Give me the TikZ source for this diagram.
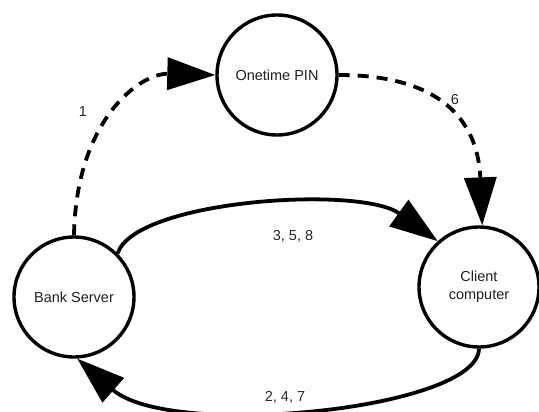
\documentclass[tikz,border=0pt]{standalone}
\usepackage{fontspec}
\setmainfont{Liberation Sans}
\usetikzlibrary{arrows.meta}

\tikzset{
  state/.style={circle, draw=black, line width=3.4pt, minimum size=120pt,
    inner sep=0pt, align=center, text=black!88,
    font=\fontsize{14.5}{18}\selectfont},
  flow/.style={line width=3.8pt, draw=black,
    -{Triangle[length=48pt,width=32pt]}},
  hint/.style={dash pattern=on 11pt off 8pt},
  lbl/.style={text=black!85, font=\fontsize{14.5}{18}\selectfont, inner sep=0pt}
}

\begin{document}
\begin{tikzpicture}[x=1pt, y=-1pt]
  \useasboundingbox (0,0) rectangle (539,412);

  % the three parties
  \node[state] (pin)    at (277,75)  {Onetime PIN};
  \node[state] (bank)   at (74,297)  {Bank Server};
  \node[state] (client) at (479,287) {Client\\computer};

  % one-time PIN channel (dashed)
  \draw[flow, hint] (bank.90) .. controls (76,120) and (140,73) .. (pin.180);
  \draw[flow, hint] (pin.0) .. controls (440,75) and (478,120) .. (client.87);

  % regular traffic between server and client
  \draw[flow] (bank.45) .. controls (135,200) and (360,185) .. (client.132);
  \draw[flow] (client.-90) .. controls (478,410) and (170,440) .. (bank.-87);

  % step numbers
  \node[lbl] (l1) at (83,112)  {1};
  \node[lbl] (l6) at (455,100) {6};
  \node[lbl] (l358) at (293,236) {3, 5, 8};
  \node[lbl] (l247) at (285,397) {2, 4, 7};
\end{tikzpicture}
\end{document}
